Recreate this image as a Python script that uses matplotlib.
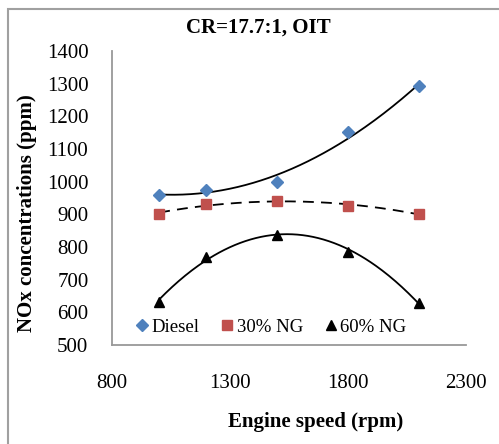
import numpy as np
import matplotlib
matplotlib.use('Agg')
import matplotlib.pyplot as plt
from matplotlib.patches import Rectangle

plt.rcParams['font.family'] = 'Liberation Serif'

speed = [1000, 1200, 1500, 1800, 2100]
diesel = [960, 975, 1000, 1152, 1292]
ng30 = [902, 932, 940, 926, 902]
ng60 = [633, 770, 838, 786, 630]

fig = plt.figure(figsize=(4.99, 4.44), dpi=100)
ax = fig.add_axes([112/499, 1-345/444, (466-112)/499, (345-51)/444])

# figure border
fig.patches.append(Rectangle((8/499, -0.05), 1.1, 1-9/444+0.05, transform=fig.transFigure,
                             fill=False, edgecolor='#a0a0a0', lw=1.5))

xs = np.linspace(1000, 2100, 200)
ax.plot(xs, np.polyval(np.polyfit(speed, diesel, 2), xs), color='black', lw=1.3)
ax.plot(xs, np.polyval(np.polyfit(speed, ng30, 2), xs), color='black', lw=1.3, ls=(0, (6, 4)))
ax.plot(xs, np.polyval(np.polyfit(speed, ng60, 2), xs), color='black', lw=1.3)

ax.plot(speed, diesel, 'D', color='#4f81bd', ms=6, ls='none', label='Diesel')
ax.plot(speed, ng30, 's', color='#c0504d', ms=7, ls='none', label='30% NG')
ax.plot(speed, ng60, '^', color='black', ms=7, ls='none', label='60% NG')

ax.set_xlim(800, 2300)
ax.set_ylim(500, 1400)
ax.set_xticks([800, 1300, 1800, 2300])
ax.set_yticks(range(500, 1401, 100))
ax.tick_params(length=0, labelsize=15)
ax.tick_params(axis='y', pad=17)
ax.tick_params(axis='x', pad=21)
for s in ['top', 'right']:
    ax.spines[s].set_visible(False)
for s in ['left', 'bottom']:
    ax.spines[s].set_color('#999999')
    ax.spines[s].set_linewidth(1.3)

fig.text(258/499, 1-28/444, 'CR=17.7:1, OIT', fontsize=15, fontweight='bold',
         ha='center', va='center')
ax.set_xlabel('Engine speed (rpm)', fontsize=15, fontweight='bold', va='center')
ax.xaxis.set_label_coords((316-112)/354, (345-422)/294)
ax.set_ylabel('NOx concentrations (ppm)', fontsize=15, fontweight='bold', va='center')
ax.yaxis.set_label_coords((27-112)/354, (345-213)/294)

ax.legend(loc='center', bbox_to_anchor=(0.45, 0.061), ncol=3, frameon=False,
          fontsize=13.5, handlelength=0.6, handletextpad=0.2, columnspacing=1.2,
          borderpad=0)

fig.savefig('out.png', dpi=100)
